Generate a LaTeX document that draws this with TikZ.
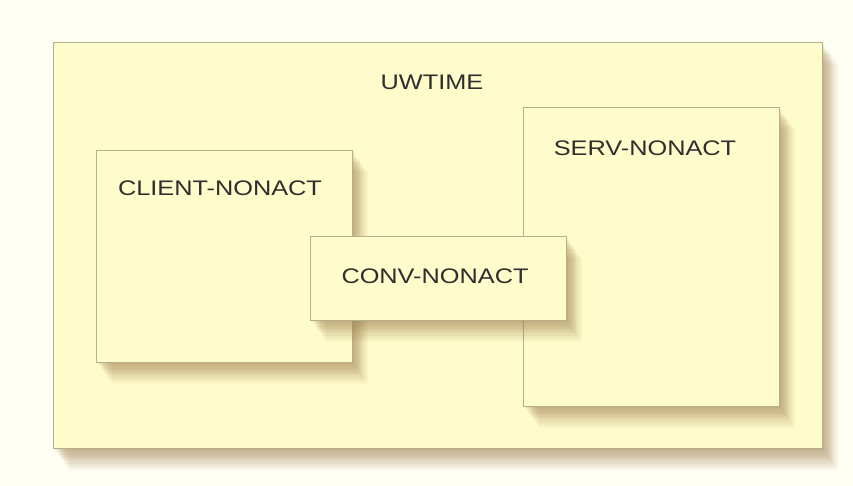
\documentclass[tikz,border=0pt]{standalone}
\usepackage{fontspec}
\setmainfont{Liberation Sans}[FakeStretch=1.2]
\usetikzlibrary{shadows}
\usetikzlibrary{fit}
\definecolor{paper}{HTML}{FFFEF2}
\definecolor{boxfill}{HTML}{FFFCCB}
\definecolor{boxline}{HTML}{B5B08A}
\definecolor{shadowtan}{HTML}{A08050}
\definecolor{labelgray}{HTML}{2E2E2E}
\tikzset{
	softshadow/.style={
		general shadow={fill=shadowtan, opacity=.1, shadow xshift=1.4pt, shadow yshift=-1.9pt},
		general shadow={fill=shadowtan, opacity=.1, shadow xshift=2.8pt, shadow yshift=-3.8pt},
		general shadow={fill=shadowtan, opacity=.1, shadow xshift=4.2pt, shadow yshift=-5.7pt},
		general shadow={fill=shadowtan, opacity=.1, shadow xshift=5.6pt, shadow yshift=-7.6pt},
		general shadow={fill=shadowtan, opacity=.1, shadow xshift=7pt, shadow yshift=-9.5pt},
		general shadow={fill=shadowtan, opacity=.09, shadow xshift=8.4pt, shadow yshift=-11.4pt},
		general shadow={fill=shadowtan, opacity=.08, shadow xshift=9.8pt, shadow yshift=-13.3pt},
		general shadow={fill=shadowtan, opacity=.07, shadow xshift=11.2pt, shadow yshift=-15.2pt},
		general shadow={fill=shadowtan, opacity=.06, shadow xshift=12.6pt, shadow yshift=-17.1pt},
		general shadow={fill=shadowtan, opacity=.05, shadow xshift=14pt, shadow yshift=-19pt}},
	panel/.style={inner sep=0pt, draw=boxline, line width=.6pt, fill=boxfill, softshadow},
	panellabel/.style={text=labelgray, inner sep=0pt, font=\fontsize{18}{20}\selectfont}
}
\begin{document}
\begin{tikzpicture}[x=0.03cm, y=-0.03cm]
	% page background
	\fill[paper] (0,0) rectangle (853,486);
	\useasboundingbox (0,0) rectangle (853,486);
	
	% outer program box
	\node[panel, fit={(53,42) (822,448)}] (uwtime) {};
	\node[panellabel] (uwtimetxt) at (432,82) {UWTIME};
	
	% client and server boxes
	\node[panel, fit={(96,150) (352,362)}] (client) {};
	\node[panellabel] (clienttxt) at (220,188) {CLIENT-NONACT};
	
	\node[panel, fit={(523,107) (779,406)}] (serv) {};
	\node[panellabel] (servtxt) at (645,148) {SERV-NONACT};
	
	% conversation box on top
	\node[panel, fit={(310,236) (566,320)}] (conv) {};
	\node[panellabel] (convtxt) at (435,276) {CONV-NONACT};
	
\end{tikzpicture}
\end{document}
